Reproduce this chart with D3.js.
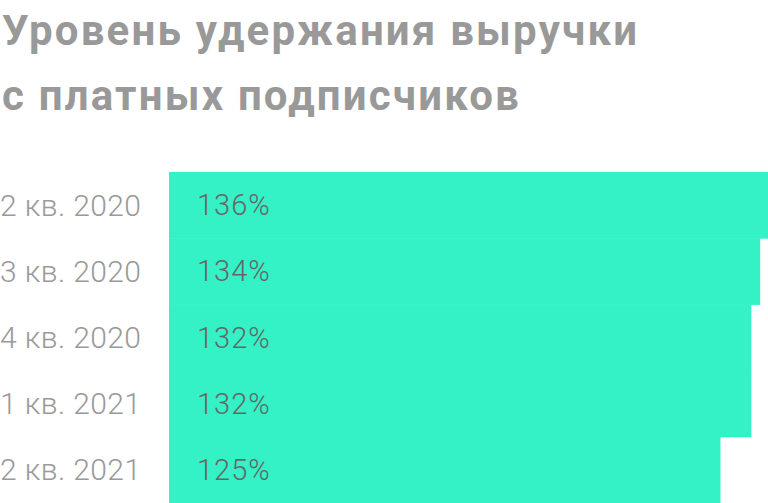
<!DOCTYPE html>
<html>
<head>
<meta charset="utf-8">
<script src="https://cdn.jsdelivr.net/npm/d3@7"></script>
<style>
  body { margin: 0; background: #fff; }
  svg { display: block; font-family: Roboto, "Noto Sans", sans-serif; }
</style>
</head>
<body>
<div id="main"></div>
<script>
var quarters = ["2 кв. 2020", "3 кв. 2020", "4 кв. 2020", "1 кв. 2021", "2 кв. 2021"];
var retention = [136, 134, 132, 132, 125];
var titleLines = ["Уровень удержания выручки", "с платных подписчиков"];

var width = 768, height = 503;
var barLeft = 169, barTop = 172;

var svg = d3.select("#main").append("svg")
    .attr("width", width)
    .attr("height", height);

// title
svg.selectAll(".title")
    .data(titleLines)
    .enter().append("text")
    .attr("class", "title")
    .attr("x", 2)
    .attr("y", function(d, i) { return 45 + i * 65; })
    .attr("fill", "#999")
    .attr("font-size", 42)
    .attr("font-weight", 700)
    .attr("letter-spacing", 2.2)
    .text(function(d) { return d; });

var x = d3.scaleLinear()
    .domain([0, 136])
    .range([barLeft, barLeft + 600]);

var y = d3.scaleBand()
    .domain(quarters)
    .range([barTop, height])
    .padding(0);

var rows = svg.selectAll(".row")
    .data(quarters)
    .enter().append("g")
    .attr("class", "row")
    .attr("transform", function(d) { return "translate(0," + y(d) + ")"; });

rows.append("rect")
    .attr("x", x(0))
    .attr("y", 0)
    .attr("width", function(d, i) { return x(retention[i]) - x(0); })
    .attr("height", y.bandwidth() + 0.5) // no seams between bars
    .attr("fill", "#34f2c6");

rows.append("text")
    .attr("x", 0)
    .attr("y", y.bandwidth() / 2)
    .attr("dy", "0.35em")
    .attr("fill", "#999")
    .attr("font-size", 30)
    .attr("font-weight", 300)
    .attr("letter-spacing", 0.4)
    .text(function(d) { return d; });

rows.append("text")
    .attr("x", x(0) + 28)
    .attr("y", y.bandwidth() / 2)
    .attr("dy", "0.35em")
    .attr("fill", "#666")
    .attr("font-size", 29)
    .attr("font-weight", 300)
    .attr("letter-spacing", 1)
    .text(function(d, i) { return retention[i] + "%"; });
</script>
</body>
</html>
